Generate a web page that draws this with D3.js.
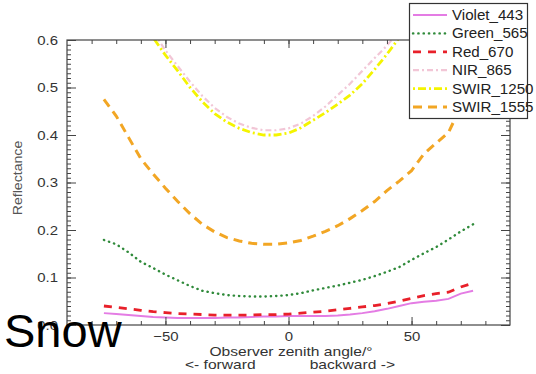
<!DOCTYPE html>
<html>
<head>
<meta charset="utf-8">
<script src="https://cdn.jsdelivr.net/npm/d3@7.9.0/dist/d3.min.js"></script>
<style>
  body { margin: 0; background: #fff; }
  svg { display: block; font-family: "Liberation Sans", Arial, sans-serif; }
</style>
</head>
<body>
<div id="chart"></div>
<script>
const angles = [-75, -70, -65, -60, -55, -50, -45, -40, -35, -30, -25, -20, -15, -10, -5, 0,
  5, 10, 15, 20, 25, 30, 35, 40, 45, 50, 55, 60, 65, 70, 75];

const violet443 = [0.025, 0.023, 0.021, 0.019, 0.017, 0.016, 0.015, 0.015, 0.015, 0.015, 0.016, 0.016, 0.017, 0.018, 0.018, 0.019,
  0.019, 0.019, 0.019, 0.020, 0.022, 0.025, 0.029, 0.034, 0.040, 0.046, 0.049, 0.051, 0.055, 0.066, 0.072];
const green565 = [0.179, 0.170, 0.153, 0.133, 0.120, 0.106, 0.094, 0.082, 0.072, 0.067, 0.063, 0.061, 0.060, 0.060, 0.061, 0.063,
  0.067, 0.073, 0.078, 0.083, 0.089, 0.095, 0.103, 0.112, 0.122, 0.137, 0.151, 0.164, 0.180, 0.197, 0.212];
const red670 = [0.040, 0.037, 0.034, 0.031, 0.028, 0.026, 0.024, 0.023, 0.022, 0.021, 0.021, 0.021, 0.021, 0.022, 0.022, 0.023,
  0.025, 0.027, 0.029, 0.032, 0.035, 0.038, 0.041, 0.045, 0.050, 0.056, 0.062, 0.066, 0.069, 0.080, 0.088];
const nir865 = [0.86, 0.79, 0.72, 0.665, 0.618, 0.578, 0.545, 0.512, 0.482, 0.457, 0.438, 0.424, 0.415, 0.410, 0.410, 0.414,
  0.424, 0.440, 0.460, 0.484, 0.508, 0.535, 0.562, 0.588, 0.620, 0.660, 0.70, 0.74, 0.79, 0.84, 0.89];
const swir1250 = [0.86, 0.78, 0.71, 0.655, 0.605, 0.568, 0.535, 0.500, 0.470, 0.445, 0.427, 0.414, 0.405, 0.400, 0.400, 0.404,
  0.415, 0.431, 0.447, 0.465, 0.484, 0.508, 0.538, 0.570, 0.605, 0.645, 0.69, 0.73, 0.78, 0.83, 0.88];
const swir1555 = [0.475, 0.440, 0.395, 0.350, 0.318, 0.288, 0.260, 0.234, 0.212, 0.196, 0.184, 0.177, 0.172, 0.170, 0.170, 0.173,
  0.178, 0.187, 0.197, 0.209, 0.224, 0.241, 0.260, 0.283, 0.303, 0.325, 0.360, 0.383, 0.405, 0.460, 0.520];

const seriesNames = ["Violet_443", "Green_565", "Red_670", "NIR_865", "SWIR_1250", "SWIR_1555"];
const seriesValues = [violet443, green565, red670, nir865, swir1250, swir1555];
const xMajorTicks = [-50, 0, 50];
const yMajorTicks = [0, 0.1, 0.2, 0.3, 0.4, 0.5, 0.6];

const styles = {
  "Violet_443": { color: "#e47ce4", width: 2, dash: null, cap: "butt" },
  "Green_565": { color: "#2f8a3a", width: 2.4, dash: "0.3,5", cap: "round" },
  "Red_670": { color: "#e8202a", width: 2.8, dash: "8,7", cap: "butt" },
  "NIR_865": { color: "#f2c6d6", width: 2.2, dash: "6,3,2,3", cap: "butt" },
  "SWIR_1250": { color: "#f4f400", width: 2.8, dash: "2,3,8,3", cap: "butt" },
  "SWIR_1555": { color: "#f2a624", width: 3, dash: "9,6", cap: "butt" },
};

const width = 536;
const height = 374;
const plot = { left: 67, right: 510, top: 40, bottom: 325 };

const svg = d3.select("#chart").append("svg")
  .attr("width", width).attr("height", height);

const x = d3.scaleLinear().domain([-90, 90]).range([plot.left, plot.right]);
const y = d3.scaleLinear().domain([0, 0.6]).range([plot.bottom, plot.top]);

svg.append("clipPath").attr("id", "clip")
  .append("rect")
  .attr("x", plot.left).attr("y", plot.top)
  .attr("width", plot.right - plot.left).attr("height", plot.bottom - plot.top);

// the reference text is a bit wider than Arial, so stretch it along x
function stretchText(sel, k = 1.15) {
  sel.each(function () {
    const t = d3.select(this);
    const tx = +t.attr("x") || 0;
    t.attr("x", tx / k).attr("transform", `scale(${k},1)`);
  });
}

// lines
const line = d3.line().x((d) => x(d[0])).y((d) => y(d[1]));
const lines = svg.append("g").attr("clip-path", "url(#clip)");
seriesNames.forEach((name, i) => {
  const s = styles[name];
  lines.append("path")
    .datum(angles.map((a, j) => [a, seriesValues[i][j]]))
    .attr("d", line)
    .attr("fill", "none")
    .attr("stroke", s.color)
    .attr("stroke-width", s.width)
    .attr("stroke-dasharray", s.dash)
    .attr("stroke-linecap", s.cap);
});

// axes (ticks pointing inward)
const axisColor = "#444";
function styleAxis(g) {
  g.select(".domain").remove();
  g.selectAll("line").attr("stroke", axisColor);
  g.selectAll("text").attr("fill", "#333").style("font-size", "13px");
}

svg.append("g").attr("transform", `translate(0,${plot.bottom})`)
  .call(d3.axisBottom(x).tickValues(d3.range(-80, 81, 10)).tickSize(-4).tickFormat(""))
  .call(styleAxis);
svg.append("g").attr("transform", `translate(0,${plot.bottom})`)
  .call(d3.axisBottom(x).tickValues(xMajorTicks).tickSize(-8).tickPadding(7).tickFormat(d3.format("d")))
  .call(styleAxis)
  .call((g) => g.selectAll("text").call(stretchText));
svg.append("g").attr("transform", `translate(0,${plot.top})`)
  .call(d3.axisTop(x).tickValues(d3.range(-80, 81, 10)).tickSize(-4).tickFormat(""))
  .call(styleAxis);
svg.append("g").attr("transform", `translate(0,${plot.top})`)
  .call(d3.axisTop(x).tickValues(xMajorTicks).tickSize(-8).tickFormat(""))
  .call(styleAxis);

svg.append("g").attr("transform", `translate(${plot.left},0)`)
  .call(d3.axisLeft(y).tickValues(d3.range(0, 0.601, 0.01)).tickSize(-4).tickFormat(""))
  .call(styleAxis);
svg.append("g").attr("transform", `translate(${plot.left},0)`)
  .call(d3.axisLeft(y).tickValues(yMajorTicks).tickSize(-9).tickPadding(9).tickFormat(d3.format(".1f")))
  .call(styleAxis)
  .call((g) => g.selectAll("text").call(stretchText));
svg.append("g").attr("transform", `translate(${plot.right},0)`)
  .call(d3.axisRight(y).tickValues(d3.range(0, 0.601, 0.01)).tickSize(-4).tickFormat(""))
  .call(styleAxis);
svg.append("g").attr("transform", `translate(${plot.right},0)`)
  .call(d3.axisRight(y).tickValues(yMajorTicks).tickSize(-9).tickFormat(""))
  .call(styleAxis);

svg.append("rect")
  .attr("x", plot.left).attr("y", plot.top)
  .attr("width", plot.right - plot.left).attr("height", plot.bottom - plot.top)
  .attr("fill", "none").attr("stroke", axisColor).attr("stroke-width", 1.2);

// axis titles
svg.append("text")
  .attr("transform", "translate(22,178) rotate(-90) scale(1.13,1)")
  .attr("text-anchor", "middle")
  .attr("fill", "#555").style("font-size", "12.5px")
  .text("Reflectance");

svg.append("text")
  .attr("x", 291).attr("y", 356).attr("text-anchor", "middle")
  .attr("fill", "#333").style("font-size", "13px")
  .text("Observer zenith angle/°")
  .call(stretchText, 1.2);
svg.append("text")
  .attr("x", 185).attr("y", 369.5)
  .attr("fill", "#333").style("font-size", "13px")
  .text("<- forward")
  .call(stretchText, 1.2);
svg.append("text")
  .attr("x", 395).attr("y", 369.5).attr("text-anchor", "end")
  .attr("fill", "#333").style("font-size", "13px")
  .text("backward ->")
  .call(stretchText, 1.2);

// legend
const legend = svg.append("g");
legend.append("rect")
  .attr("x", 409.5).attr("y", 3.5).attr("width", 118).attr("height", 115)
  .attr("fill", "#fff").attr("stroke", "#333").attr("stroke-width", 1.2);
seriesNames.forEach((name, i) => {
  const s = styles[name];
  const ly = 15 + i * 18.4;
  legend.append("line")
    .attr("x1", 413).attr("x2", 447).attr("y1", ly).attr("y2", ly)
    .attr("stroke", s.color).attr("stroke-width", s.width)
    .attr("stroke-dasharray", s.dash)
    .attr("stroke-linecap", s.cap);
  legend.append("text")
    .attr("x", 452).attr("y", ly + 5)
    .attr("fill", "#222").style("font-size", "14px")
    .text(name)
    .call(stretchText, 1.08);
});

// overlay label
svg.append("text")
  .attr("x", 4).attr("y", 347)
  .attr("fill", "#000").style("font-size", "47px")
  .text("Snow");
</script>
</body>
</html>
